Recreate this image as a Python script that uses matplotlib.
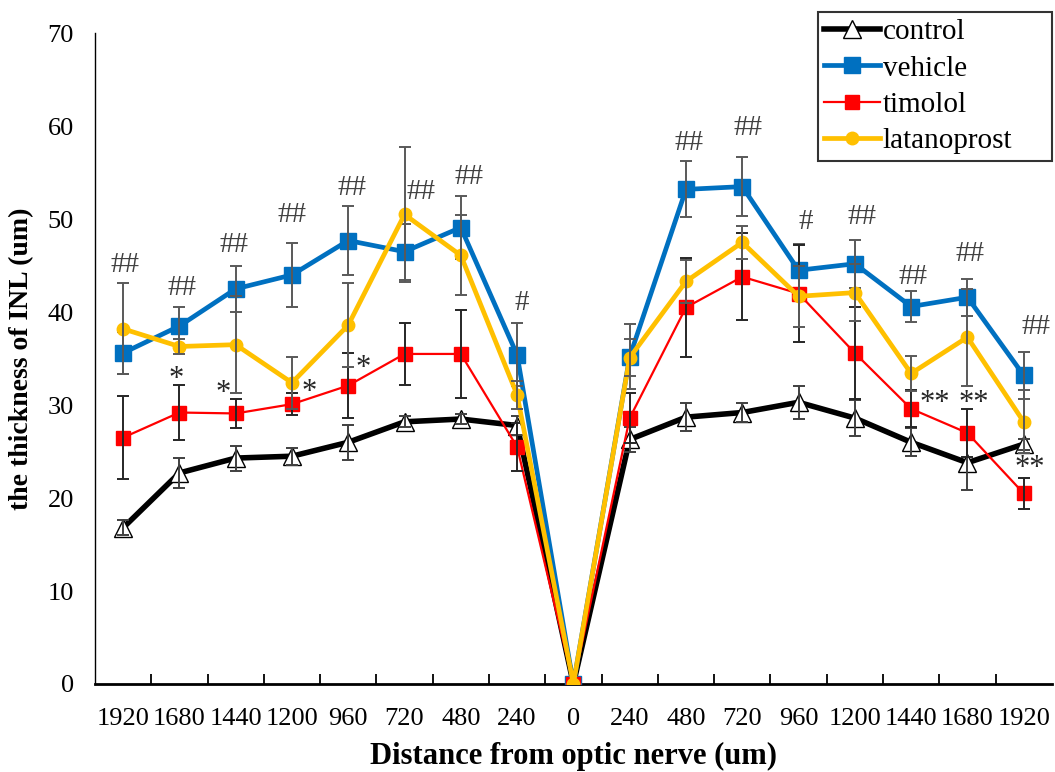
import matplotlib
matplotlib.use("Agg")
import matplotlib.pyplot as plt
import numpy as np

plt.rcParams['font.family'] = ['Liberation Serif', 'DejaVu Serif']

categories = ["1920", "1680", "1440", "1200", "960", "720", "480", "240", "0",
              "240", "480", "720", "960", "1200", "1440", "1680", "1920"]

control = [16.8, 22.7, 24.3, 24.5, 26.0, 28.2, 28.5, 27.8, 0,
           26.3, 28.7, 29.2, 30.3, 28.6, 26.0, 23.8, 25.8]
control_err = [0.8, 1.6, 1.35, 0.9, 1.9, 0.6, 0.5, 1.0, 0,
               1.3, 1.5, 1.0, 1.8, 1.9, 1.5, 2.9, 0.6]

vehicle = [35.6, 38.5, 42.5, 44.0, 47.7, 46.5, 49.1, 35.4, 0,
           35.2, 53.2, 53.5, 44.5, 45.2, 40.6, 41.6, 33.2]
vehicle_err = [2.3, 2.0, 2.5, 3.4, 3.7, 3.0, 3.4, 3.4, 0,
               3.5, 3.0, 3.2, 2.8, 2.6, 1.7, 2.0, 2.5]

timolol = [26.5, 29.2, 29.1, 30.1, 32.1, 35.5, 35.5, 25.5, 0,
           28.6, 40.5, 43.8, 42.0, 35.6, 29.6, 27.0, 20.5]
timolol_err = [4.5, 3.0, 1.6, 1.2, 3.5, 3.3, 4.7, 2.6, 0,
               2.7, 5.3, 4.7, 5.2, 4.9, 2.0, 2.6, 1.7]

latanoprost = [38.2, 36.3, 36.5, 32.4, 38.6, 50.5, 46.1, 31.1, 0,
               35.1, 43.3, 47.5, 41.7, 42.1, 33.4, 37.3, 28.2]
latanoprost_err = [4.9, 0.8, 5.2, 2.8, 4.5, 7.3, 4.3, 1.5, 0,
                   2.0, 2.3, 1.8, 3.3, 3.1, 1.9, 5.2, 3.4]

# significance marks: (text, category position, y value)
hash_marks = [("##", 0.03, 45.1), ("##", 1.05, 42.6), ("##", 1.97, 47.2),
              ("##", 3.0, 50.4), ("##", 4.06, 53.4), ("##", 5.3, 52.9),
              ("##", 6.14, 54.5), ("#", 7.08, 41.0),
              ("##", 10.06, 58.2), ("##", 11.1, 59.8), ("#", 12.12, 49.7),
              ("##", 13.12, 50.2), ("##", 14.03, 43.8), ("##", 15.05, 46.2),
              ("##", 16.21, 38.4)]
star_marks = [("*", 0.95, 33.4), ("*", 1.77, 31.8), ("*", 3.3, 32.0),
              ("*", 4.26, 34.5),
              ("**", 14.42, 30.8), ("**", 15.11, 30.8), ("**", 16.1, 23.8)]

fig = plt.figure(figsize=(10.55, 7.72), dpi=100)
ax = fig.add_axes([0.090, 0.114, 0.907, 0.843])

x = np.arange(len(categories))

series = [
    ("control", control, control_err, dict(color='black', lw=4.0, marker='^', ms=13,
                                           mfc='white', mec='black', mew=1.0), '#404040'),
    ("vehicle", vehicle, vehicle_err, dict(color='#0070C0', lw=3.4, marker='s', ms=12,
                                           mfc='#0070C0', mec='#0070C0'), '#595959'),
    ("timolol", timolol, timolol_err, dict(color='#FF0000', lw=1.6, marker='s', ms=10,
                                           mfc='#FF0000', mec='#FF0000'), '#262626'),
    ("latanoprost", latanoprost, latanoprost_err, dict(color='#FFC000', lw=3.4, marker='o', ms=9,
                                                       mfc='#FFC000', mec='#FFC000'), '#595959'),
]

for k, (name, vals, errs, style, ecol) in enumerate(series):
    z = 3 + 2 * k
    ax.plot(x, vals, label=name, zorder=z, **style)
    vals_a = np.array(vals)
    errs_a = np.array(errs)
    mask = errs_a > 0
    ax.errorbar(x[mask], vals_a[mask], yerr=errs_a[mask], fmt='none', ecolor=ecol,
                elinewidth=1.4, capsize=4.5, capthick=1.4, zorder=z + 1)

for txt, xi, yv in hash_marks:
    ax.text(xi, yv, txt, ha='center', va='center', fontsize=21, color='#404040', zorder=20)
for txt, xi, yv in star_marks:
    ax.text(xi, yv - 0.6, txt, ha='center', va='center', fontsize=22, color='#262626', zorder=20)

ax.set_xlim(-0.5, len(categories) - 0.5)
ax.set_ylim(0, 70)
ax.set_yticks(np.arange(0, 71, 10))
ax.tick_params(axis='y', length=0, labelsize=19, pad=15)
ax.set_xticks(x)
ax.set_xticklabels(categories)
ax.tick_params(axis='x', which='major', length=0, labelsize=19, pad=17)
ax.set_xticks(np.arange(-0.5, len(categories), 1.0)[1:-1], minor=True)
ax.tick_params(axis='x', which='minor', direction='in', length=7, width=1.3, color='black')

ax.spines['top'].set_visible(False)
ax.spines['right'].set_visible(False)
ax.spines['bottom'].set_linewidth(2.0)
ax.spines['left'].set_linewidth(1.0)

ax.set_xlabel("Distance from optic nerve (um)", fontsize=22, fontweight='bold', labelpad=9)
ax.set_ylabel("the thickness of INL (um)", fontsize=20, fontweight='bold', labelpad=10)

leg = ax.legend(loc='upper right', bbox_to_anchor=(0.7555, 0.806, 0.2445, 0.226), mode='expand',
                fontsize=21, frameon=True, fancybox=False, edgecolor='black',
                handlelength=1.9, handletextpad=0.1, labelspacing=0.34,
                borderpad=0.22, borderaxespad=0.0)
leg.get_frame().set_linewidth(1.5)

fig.savefig("out.png", dpi=100)
